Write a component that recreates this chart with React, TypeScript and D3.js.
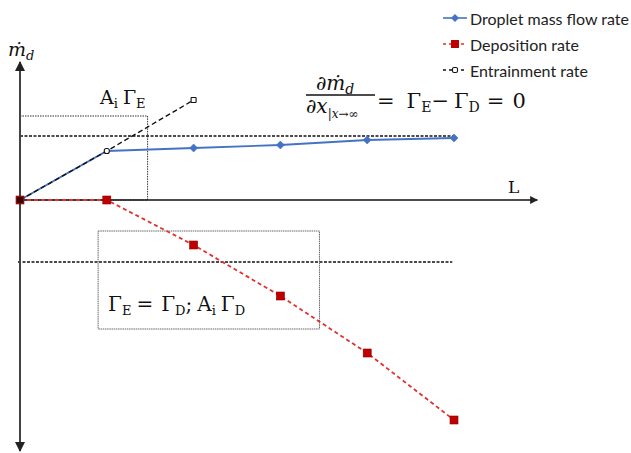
import React from "react";
import * as d3 from "d3";

// Position along the pipe (arbitrary steps) and the three rate curves
const steps = [0, 1, 2, 3, 4, 5];
const dropletFlow = [0, 4.9, 5.2, 5.5, 6.0, 6.2];
const entrainmentSteps = [0, 1, 2];
const entrainment = [0, 4.9, 10.0];
const deposition = [0, 0, -4.5, -9.6, -15.3, -22.0];

const seriesNames = ["Droplet mass flow rate", "Deposition rate", "Entrainment rate"];

// Asymptote guides
const upperGuide = 6.4;
const lowerGuide = -6.2;

const W = 631;
const H = 453;

const BLUE = "#4472C4";
const RED = "#E0312F";
const RED_FILL = "#C00000";
const MATH = "'DejaVu Serif', 'Liberation Serif', serif";
const SANS = "Lato, 'Open Sans', sans-serif";

// Diamond marker, as wide as it is tall
const diamondPath = (r: number) => `M0,${-r} L${r},0 L0,${r} L${-r},0 Z`;

export default function App() {
  const x = d3.scaleLinear().domain([0, 5]).range([20, 454]);
  const y = d3.scaleLinear().domain([0, 10]).range([200, 100]);

  const line = d3
    .line<[number, number]>()
    .x((d) => x(d[0]))
    .y((d) => y(d[1]));

  const blueData = steps.map((s, i) => [s, dropletFlow[i]] as [number, number]);
  const blackData = entrainmentSteps.map((s, i) => [s, entrainment[i]] as [number, number]);
  const redData = steps.map((s, i) => [s, deposition[i]] as [number, number]);

  const x0 = x(0);
  const y0 = y(0);
  const yTop = y(13.8);
  const yBottom = y(-25.1);
  const xEnd = x(5.96);

  return (
    <svg width={W} height={H} style={{ display: "block", position: "absolute", left: 0, top: 0 }}>
      <rect width={W} height={H} fill="#fff" />
      <defs>
        <marker id="arr" viewBox="0 0 10 10" refX="9" refY="5" markerWidth="5" markerHeight="5" orient="auto-start-reverse">
          <path d="M0,0 L10,5 L0,10 z" fill="#222" />
        </marker>
      </defs>

      {/* annotation boxes */}
      <rect x={x0} y={y(8.4)} width={x(1.47) - x0} height={y0 - y(8.4)} fill="none" stroke="#333" strokeWidth={1} strokeDasharray="1.5,1" />
      <rect x={x(0.9)} y={y(-3.1)} width={x(3.45) - x(0.9)} height={y(-12.9) - y(-3.1)} fill="none" stroke="#666" strokeWidth={1} strokeDasharray="1.5,0.7" />

      {/* guide lines */}
      <line x1={x0} x2={x(5)} y1={y(upperGuide)} y2={y(upperGuide)} stroke="#111" strokeWidth={1.3} strokeDasharray="3,1.5" />
      <line x1={x0 - 2} x2={x(4.98)} y1={y(lowerGuide)} y2={y(lowerGuide)} stroke="#111" strokeWidth={1.3} strokeDasharray="3,1.5" />

      {/* axes */}
      <line x1={x0} x2={x0} y1={yBottom} y2={yTop} stroke="#444" strokeWidth={2} markerEnd="url(#arr)" markerStart="url(#arr)" />
      <line x1={x0} x2={xEnd} y1={y0} y2={y0} stroke="#111" strokeWidth={1.6} markerEnd="url(#arr)" />

      {/* series */}
      <path d={line(blueData) ?? ""} fill="none" stroke={BLUE} strokeWidth={1.8} />
      <path d={line(blackData) ?? ""} fill="none" stroke="#111" strokeWidth={1.4} strokeDasharray="5,3" />
      <path d={line(redData) ?? ""} fill="none" stroke={RED} strokeWidth={1.8} strokeDasharray="4,3" />

      {blueData.slice(2).map((d, i) => (
        <path key={"b" + i} d={diamondPath(4)} transform={`translate(${x(d[0])},${y(d[1])})`} fill={BLUE} stroke={BLUE} strokeWidth={0.6} />
      ))}
      {redData.map((d, i) => (
        <rect key={"r" + i} x={x(d[0]) - 4} y={y(d[1]) - 4} width={8} height={8} fill={RED_FILL} stroke="#8B0000" strokeWidth={0.6} />
      ))}
      {blackData.map((d, i) => (
        <rect key={"k" + i} x={x(d[0]) - 2.5} y={y(d[1]) - 2.5} width={5} height={5} rx={i === 1 ? 2 : 0.5} fill={i === 0 ? "#400" : "#fff"} stroke="#111" strokeWidth={1.1} />
      ))}

      {/* axis labels */}
      <text x={8} y={56} fontFamily={MATH} fontStyle="italic" fontSize={19} fill="#111">
        ṁ<tspan fontSize={13} dy={4}>d</tspan>
      </text>
      <text x={508} y={193} fontFamily={MATH} fontSize={17} fill="#111">L</text>

      {/* A_i Γ_E */}
      <text x={100} y={104} fontFamily={MATH} fontSize={19} fill="#111">
        A<tspan fontSize={13} dy={4}>i</tspan>
        <tspan dy={-4} dx={5}>Γ</tspan>
        <tspan fontSize={13} dy={4}>E</tspan>
      </text>

      {/* steady-state relation */}
      <text x={316} y={90} fontFamily={MATH} fontSize={20} fill="#111">
        ∂<tspan fontStyle="italic">ṁ</tspan>
        <tspan fontStyle="italic" fontSize={14} dy={4}>d</tspan>
      </text>
      <line x1={306} x2={375} y1={95} y2={95} stroke="#111" strokeWidth={1.3} />
      <text x={306} y={113} fontFamily={MATH} fontSize={20} fill="#111">
        ∂<tspan fontStyle="italic">x</tspan>
        <tspan fontSize={12} dy={5}>|</tspan>
        <tspan fontSize={12} fontStyle="italic">x</tspan>
        <tspan fontSize={12}>→∞</tspan>
      </text>
      <text x={377} y={108} fontFamily={MATH} fontSize={21} fill="#111">
        =
        <tspan dx={12}>Γ</tspan>
        <tspan fontSize={14} dy={4}>E</tspan>
        <tspan dy={-4}>−</tspan>
        <tspan dx={5}>Γ</tspan>
        <tspan fontSize={14} dy={4}>D</tspan>
        <tspan dy={-4} dx={7}>=</tspan>
        <tspan dx={8}>0</tspan>
      </text>

      {/* Γ_E = Γ_D; A_i Γ_D */}
      <text x={108} y={311} fontFamily={MATH} fontSize={20} fill="#111">
        Γ<tspan fontSize={13} dy={4}>E</tspan>
        <tspan dy={-4} dx={5}>=</tspan>
        <tspan dx={8}>Γ</tspan>
        <tspan fontSize={13} dy={4}>D</tspan>
        <tspan dy={-4}>;</tspan>
        <tspan dx={5}>A</tspan>
        <tspan fontSize={13} dy={4}>i</tspan>
        <tspan dy={-4} dx={5}>Γ</tspan>
        <tspan fontSize={13} dy={4}>D</tspan>
      </text>

      {/* legend */}
      <g fontFamily={SANS} fontSize={16} fill="#222">
        <line x1={443} x2={467} y1={18} y2={18} stroke={BLUE} strokeWidth={1.6} />
        <path d={diamondPath(4)} transform="translate(455,18)" fill={BLUE} />
        <text x={470} y={18} dominantBaseline="central">{seriesNames[0]}</text>

        <line x1={443} x2={467} y1={44} y2={44} stroke={RED} strokeWidth={1.6} strokeDasharray="3,3" />
        <rect x={451} y={40} width={8} height={8} fill={RED_FILL} />
        <text x={470} y={44} dominantBaseline="central">{seriesNames[1]}</text>

        <line x1={443} x2={467} y1={70} y2={70} stroke="#111" strokeWidth={1.4} strokeDasharray="3,3" />
        <rect x={452.5} y={67.5} width={5} height={5} rx={1.5} fill="#fff" stroke="#111" strokeWidth={1.1} />
        <text x={470} y={70} dominantBaseline="central">{seriesNames[2]}</text>
      </g>
    </svg>
  );
}
